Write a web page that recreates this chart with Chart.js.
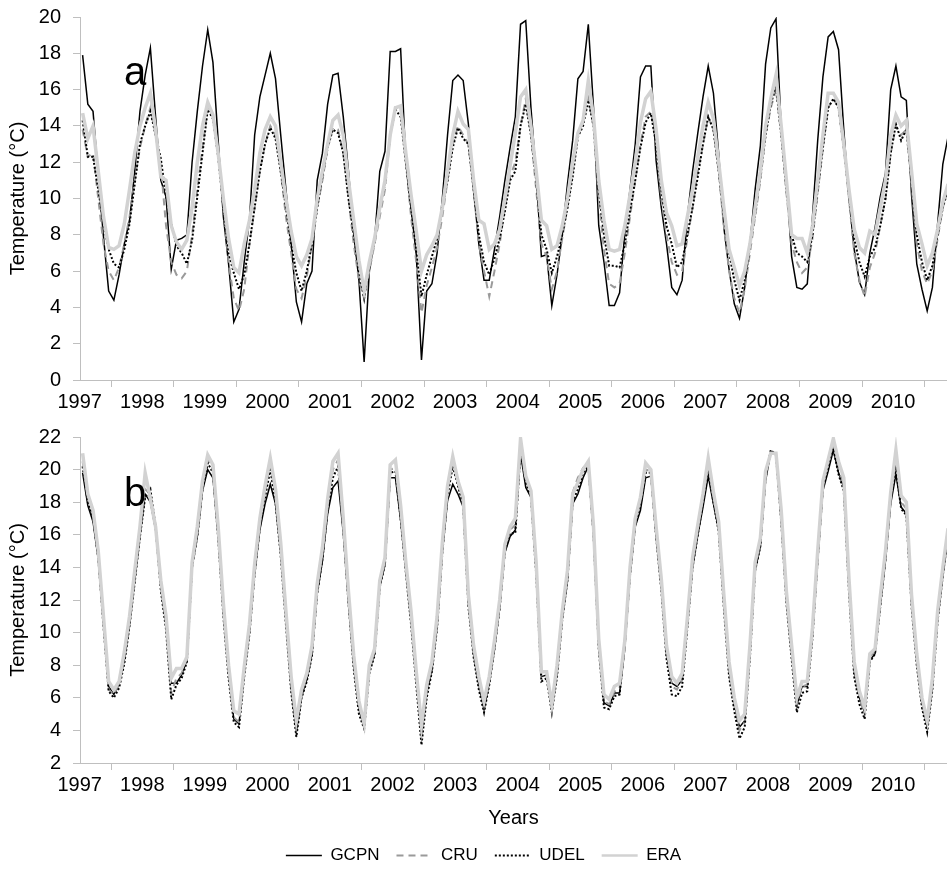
<!DOCTYPE html>
<html>
<head>
<meta charset="utf-8">
<script src="https://cdn.jsdelivr.net/npm/chart.js@4.4.0/dist/chart.umd.min.js"></script>
<style>
  body { margin: 0; background: #fff; }
  #wrap { position: relative; width: 947px; height: 874px; overflow: hidden; font-family: "Liberation Sans", Arial, sans-serif; }
  .box { position: absolute; left: 0; width: 947px; }
  #boxA { top: 0; height: 420px; }
  #boxB { top: 420px; height: 454px; }
  .tag { position: absolute; font-size: 40px; line-height: 40px; color: #000; }
</style>
</head>
<body>
<div id="wrap">
  <div class="box" id="boxA"><canvas id="chartA" width="947" height="420"></canvas></div>
  <div class="box" id="boxB"><canvas id="chartB" width="947" height="454"></canvas></div>
  <div class="tag" style="left:124px;top:51px">a</div>
  <div class="tag" style="left:124px;top:472px">b</div>
</div>
<script>
// monthly series, Jul 1997 .. May 2011
const yearLabels = ['1997','1998','1999','2000','2001','2002','2003','2004','2005','2006','2007','2008','2009','2010'];

// panel a
const gcpnA = [
  17.9, 15.2, 14.8, 11.3, 7.9, 4.9, 4.4, 5.8, 7.5, 8.8, 11.5, 14.8,
  16.8, 18.3, 14.5, 11.0, 10.1, 6.1, 7.7, 7.8, 8.0, 12.0, 14.8, 17.3,
  19.3, 17.5, 13.2, 9.0, 6.4, 3.2, 3.9, 6.5, 8.8, 13.5, 15.6, 16.8,
  18.0, 16.6, 13.5, 10.5, 7.5, 4.3, 3.2, 5.3, 6.0, 11.0, 12.5, 15.2,
  16.8, 16.9, 14.5, 11.5, 8.1, 5.5, 1.0, 6.0, 7.7, 11.5, 12.6, 18.1,
  18.1, 18.25, 12.0, 9.5, 6.9, 1.1, 4.9, 5.3, 7.0, 10.0, 13.5, 16.5,
  16.8, 16.5, 14.1, 10.5, 7.5, 5.5, 5.5, 7.2, 9.0, 11.0, 12.8, 14.5,
  19.6, 19.8, 15.0, 11.3, 6.8, 6.9, 4.1, 5.8, 8.0, 10.8, 13.2, 16.6,
  17.0, 19.6, 15.0, 8.5, 6.5, 4.1, 4.1, 4.8, 8.1, 10.5, 13.0, 16.7,
  17.3, 17.3, 12.1, 9.5, 7.5, 5.1, 4.7, 5.5, 9.0, 11.5, 13.6, 15.6,
  17.3, 15.8, 12.5, 8.4, 6.1, 4.2, 3.4, 5.1, 7.5, 10.5, 12.9, 17.4,
  19.4, 19.9, 13.9, 11.0, 6.8, 5.1, 5.0, 5.3, 9.0, 13.2, 16.7, 18.9,
  19.2, 18.2, 13.8, 10.0, 7.2, 5.4, 4.7, 7.0, 8.4, 10.1, 11.4, 16.0,
  17.3, 15.6, 15.4, 10.2, 6.4, 5.0, 3.8, 5.1, 8.6, 11.9, 13.4
];
const cruA = [
  13.8, 12.3, 12.5, 10.0, 7.5, 6.0, 5.5, 6.2, 7.5, 9.0, 11.0, 12.8,
  14.0, 15.0, 13.5, 11.8, 8.5, 6.5, 5.8, 5.6, 6.0, 8.0, 10.5, 12.8,
  15.0, 14.5, 12.5, 9.5, 6.5, 4.5, 3.8, 5.0, 7.5, 9.5, 11.5, 13.0,
  14.0, 13.5, 11.5, 9.0, 7.0, 5.0, 4.5, 5.7, 7.5, 9.5, 11.0, 12.8,
  13.9, 13.8, 12.5, 10.0, 7.5, 5.5, 4.5, 6.0, 7.5, 9.0, 10.5, 13.5,
  15.0, 14.8, 12.0, 9.0, 6.5, 3.7, 5.2, 6.2, 7.3, 9.0, 11.0, 13.0,
  14.0, 13.5, 13.0, 10.5, 7.5, 6.0, 4.6, 6.0, 7.5, 9.5, 11.2, 12.0,
  14.0, 15.5, 13.5, 10.5, 7.5, 6.8, 5.0, 6.0, 7.8, 9.5, 11.5, 13.5,
  14.2, 15.5, 14.0, 10.0, 7.2, 5.3, 5.1, 5.3, 7.0, 9.0, 11.0, 13.0,
  14.5, 14.8, 13.0, 10.0, 8.0, 6.5, 5.8, 6.0, 7.8, 9.5, 11.5, 13.0,
  14.5, 13.8, 11.5, 8.5, 6.0, 4.5, 3.7, 5.0, 7.0, 9.0, 11.0, 13.5,
  15.0, 16.0, 13.5, 10.3, 7.5, 6.5, 5.9, 6.2, 7.8, 10.3, 12.8, 15.0,
  15.5, 15.0, 12.8, 10.0, 7.0, 5.5, 4.6, 6.2, 7.0, 8.5, 10.0, 12.5,
  14.0, 13.5, 13.8, 10.8, 7.5, 6.0, 5.3, 6.0, 7.8, 9.5, 10.5
];
const udelA = [
  14.3, 12.3, 12.3, 10.5, 8.6, 7.2, 6.4, 6.2, 7.2, 8.6, 10.8, 13.0,
  14.0, 14.8, 13.5, 12.2, 10.1, 8.6, 7.4, 7.0, 6.4, 7.7, 10.1, 12.5,
  14.9, 14.4, 12.3, 9.5, 7.0, 5.9, 5.0, 5.8, 7.5, 9.5, 11.5, 13.0,
  13.9, 13.3, 11.5, 9.5, 7.5, 5.9, 4.9, 6.0, 7.5, 9.5, 11.2, 12.8,
  13.8, 13.6, 12.5, 10.0, 8.0, 6.0, 4.5, 6.5, 7.6, 9.5, 10.8, 13.5,
  14.9, 14.5, 12.0, 9.5, 7.2, 4.6, 5.8, 6.8, 7.8, 9.5, 11.0, 12.8,
  13.9, 13.3, 13.0, 10.5, 8.0, 6.5, 5.8, 6.7, 7.8, 9.3, 11.0, 11.5,
  14.0, 15.2, 13.5, 11.0, 8.0, 7.2, 5.9, 6.8, 8.0, 9.5, 11.2, 13.4,
  14.0, 15.4, 14.0, 10.5, 8.0, 6.3, 6.3, 6.2, 7.5, 9.3, 11.0, 12.8,
  14.2, 14.7, 13.0, 10.5, 8.5, 7.5, 6.2, 6.5, 8.0, 9.5, 11.2, 13.0,
  14.5, 13.8, 11.5, 9.0, 7.0, 5.5, 4.4, 5.5, 7.3, 9.2, 11.2, 13.5,
  15.2, 16.2, 13.5, 10.5, 8.0, 7.0, 6.8, 6.5, 8.0, 10.5, 12.8, 15.0,
  15.5, 15.0, 12.8, 10.2, 7.8, 6.5, 5.7, 6.8, 7.3, 8.5, 10.0, 12.5,
  14.1, 13.2, 13.8, 11.0, 8.0, 6.5, 5.5, 6.3, 8.0, 9.5, 10.5
];
const eraA = [
  14.7, 13.3, 14.0, 11.5, 9.0, 7.3, 7.2, 7.4, 8.6, 10.5, 12.5, 14.0,
  15.0, 15.8, 13.8, 11.2, 11.0, 8.5, 7.6, 7.2, 7.7, 9.5, 12.0, 14.0,
  15.3, 14.6, 12.5, 10.0, 7.8, 6.2, 5.9, 7.5, 8.8, 10.5, 12.5, 13.8,
  14.5, 14.0, 12.0, 10.0, 8.2, 6.8, 6.3, 6.9, 7.8, 10.0, 11.5, 13.0,
  14.3, 14.6, 13.5, 11.0, 8.8, 6.6, 4.9, 6.5, 7.8, 9.5, 11.0, 13.5,
  15.0, 15.1, 12.5, 10.2, 8.2, 6.0, 6.9, 7.4, 8.0, 9.5, 11.5, 13.5,
  14.8, 14.1, 13.8, 11.0, 8.8, 8.6, 7.2, 7.5, 8.3, 10.0, 11.8, 13.6,
  15.6, 16.0, 14.0, 11.5, 8.8, 8.5, 7.2, 7.4, 8.5, 10.0, 12.0, 13.6,
  14.3, 16.5, 14.5, 11.0, 8.8, 7.2, 7.1, 7.2, 8.5, 10.2, 12.0, 14.2,
  15.5, 15.9, 13.8, 11.0, 9.2, 8.5, 7.4, 7.5, 9.0, 10.5, 12.3, 14.0,
  15.3, 14.4, 12.0, 9.5, 7.2, 6.2, 5.2, 6.0, 7.5, 9.5, 11.5, 14.0,
  15.5, 16.8, 14.0, 11.0, 8.0, 7.8, 7.8, 7.0, 8.5, 11.0, 13.5, 15.8,
  15.8, 15.3, 13.0, 10.5, 8.3, 7.3, 7.0, 8.2, 8.0, 9.5, 11.0, 13.5,
  14.6, 14.0, 14.3, 11.5, 8.6, 7.5, 6.3, 7.0, 8.3, 9.8, 10.8
];

// panel b
const gcpnB = [
  19.8, 17.8, 16.8, 14.5, 10.5, 6.7, 6.2, 6.9, 8.3, 10.5, 13.2, 15.9,
  18.5, 18.0, 16.3, 12.8, 10.5, 6.9, 6.9, 7.4, 8.3, 14.0, 15.9, 18.7,
  20.0, 19.5, 15.9, 11.2, 7.5, 4.7, 4.4, 7.5, 10.0, 13.6, 16.3, 17.9,
  19.1, 17.9, 14.9, 10.8, 6.7, 3.9, 6.1, 7.1, 8.7, 12.4, 14.4, 17.3,
  18.9, 19.3, 16.1, 11.8, 8.0, 5.3, 4.2, 7.7, 8.7, 12.8, 14.2, 19.5,
  19.5, 16.9, 13.8, 10.8, 7.1, 3.8, 6.3, 7.7, 10.4, 14.9, 18.1, 19.1,
  18.5, 17.7, 11.8, 8.7, 6.8, 5.3, 6.9, 9.0, 11.5, 14.9, 15.9, 16.3,
  21.0, 18.9, 18.3, 13.8, 7.3, 7.4, 5.3, 7.5, 10.8, 13.2, 17.9, 18.5,
  19.5, 20.2, 15.9, 9.1, 5.7, 5.5, 6.3, 6.3, 9.0, 13.5, 16.5, 17.5,
  19.5, 19.6, 15.9, 12.8, 8.7, 6.9, 6.7, 7.1, 10.4, 14.0, 16.0, 17.7,
  19.6, 17.9, 16.3, 11.8, 7.7, 5.7, 4.2, 4.6, 8.7, 13.8, 15.3, 19.3,
  21.1, 21.0, 16.9, 12.0, 8.7, 5.5, 6.7, 6.7, 9.8, 14.4, 18.7, 19.9,
  21.2, 19.8, 18.9, 12.8, 7.7, 6.0, 5.1, 8.3, 8.7, 11.6, 14.4, 17.9,
  19.7, 17.7, 17.3, 11.8, 8.3, 5.7, 4.2, 6.7, 10.8, 13.5, 15.9
];
const cruB = [
  20.5, 18.2, 17.2, 14.8, 10.7, 6.5, 6.2, 6.8, 8.5, 10.7, 13.5, 16.2,
  18.8, 18.5, 16.6, 13.0, 10.6, 6.3, 7.2, 7.5, 8.4, 14.2, 16.2, 19.0,
  20.6, 20.0, 16.2, 11.4, 7.6, 4.8, 4.5, 7.6, 10.2, 13.9, 16.8, 18.6,
  20.3, 18.4, 15.1, 10.9, 6.8, 4.0, 6.2, 7.2, 8.9, 12.7, 14.8, 17.8,
  20.0, 20.6, 16.6, 12.1, 8.2, 5.4, 4.2, 7.7, 8.8, 13.0, 14.4, 20.0,
  20.1, 17.3, 14.0, 10.9, 7.2, 3.7, 6.3, 7.9, 10.6, 15.2, 18.7, 20.5,
  19.2, 18.0, 11.9, 8.9, 6.8, 5.4, 7.0, 9.2, 11.7, 15.2, 16.3, 16.6,
  21.5, 19.4, 18.5, 14.0, 7.3, 7.4, 5.3, 7.6, 11.0, 13.5, 18.6, 19.5,
  20.1, 20.4, 16.2, 9.3, 5.8, 5.6, 6.4, 6.6, 9.6, 13.8, 16.8, 18.0,
  20.0, 19.9, 16.2, 12.9, 8.8, 6.7, 6.5, 7.1, 10.6, 14.3, 16.3, 18.2,
  20.2, 18.2, 16.5, 11.9, 7.7, 5.5, 4.0, 4.5, 8.8, 14.0, 15.5, 19.7,
  21.1, 21.0, 17.1, 12.2, 8.8, 5.6, 6.7, 6.8, 10.0, 14.7, 19.0, 20.3,
  21.5, 20.0, 19.0, 12.9, 7.8, 6.0, 5.0, 8.5, 8.9, 11.9, 14.8, 18.4,
  20.5, 18.0, 17.6, 12.0, 8.4, 5.8, 4.3, 6.9, 11.0, 13.8, 16.2
];
const udelB = [
  20.2, 18.0, 17.0, 14.6, 10.4, 6.4, 6.0, 6.6, 8.1, 10.4, 13.1, 15.9,
  18.3, 18.8, 16.5, 12.6, 10.2, 5.9, 6.8, 7.2, 8.2, 14.0, 15.9, 18.8,
  20.4, 19.8, 15.8, 11.0, 7.2, 4.5, 4.2, 7.3, 9.9, 13.6, 16.5, 18.3,
  20.0, 18.0, 14.7, 10.5, 6.4, 3.6, 6.0, 7.0, 8.6, 12.4, 14.5, 17.5,
  19.5, 20.2, 16.3, 11.8, 7.8, 5.0, 4.1, 7.5, 8.6, 12.8, 14.2, 19.8,
  19.9, 17.0, 13.7, 10.5, 6.8, 3.1, 6.0, 7.6, 10.3, 14.9, 18.4, 20.2,
  19.0, 17.8, 11.6, 8.5, 6.5, 5.1, 6.8, 9.0, 11.5, 15.0, 16.1, 16.1,
  21.2, 19.2, 18.3, 13.6, 7.0, 7.2, 5.1, 7.3, 10.8, 13.2, 18.0, 18.8,
  19.8, 20.3, 16.0, 9.0, 5.4, 5.3, 6.1, 6.2, 9.3, 13.5, 16.6, 17.8,
  19.8, 19.8, 15.9, 12.6, 8.4, 6.2, 6.1, 6.7, 10.3, 14.0, 16.0, 18.0,
  20.0, 18.0, 16.2, 11.5, 7.3, 5.2, 3.5, 4.2, 8.5, 13.8, 15.3, 19.5,
  21.2, 20.9, 16.8, 11.8, 8.4, 5.1, 6.3, 6.4, 9.7, 14.5, 18.9, 20.1,
  21.3, 19.7, 18.7, 12.5, 7.3, 5.6, 4.7, 8.2, 8.7, 11.6, 14.5, 18.2,
  20.1, 17.6, 17.2, 11.6, 8.0, 5.4, 3.9, 6.5, 10.7, 13.5, 15.9
];
const eraB = [
  21.0, 18.5, 17.5, 15.0, 11.0, 7.0, 6.5, 7.0, 8.8, 11.0, 13.8, 16.5,
  19.8, 18.2, 16.5, 13.2, 11.0, 7.2, 7.8, 7.8, 8.5, 14.3, 16.5, 19.3,
  20.9, 20.3, 16.5, 11.8, 8.0, 5.2, 5.0, 7.9, 10.5, 14.2, 17.0, 19.0,
  20.7, 18.8, 15.5, 11.3, 7.3, 4.6, 6.5, 7.5, 9.2, 13.0, 15.2, 18.2,
  20.5, 21.0, 17.0, 12.5, 8.6, 5.8, 4.4, 8.0, 9.0, 13.2, 14.6, 20.3,
  20.6, 17.8, 14.3, 11.3, 7.6, 4.3, 6.8, 8.2, 11.0, 15.5, 19.0, 20.8,
  19.3, 18.3, 12.3, 9.2, 7.3, 5.8, 7.3, 9.5, 12.0, 15.4, 16.5, 17.0,
  21.9, 19.6, 18.7, 14.3, 7.6, 7.6, 5.6, 8.0, 11.3, 13.8, 18.5, 19.2,
  20.0, 20.5, 16.5, 9.6, 6.2, 5.9, 6.7, 6.9, 9.5, 14.0, 17.0, 18.3,
  20.4, 20.0, 16.5, 13.3, 9.2, 7.3, 6.9, 7.5, 10.9, 14.6, 16.6, 18.5,
  20.7, 18.6, 16.8, 12.3, 8.2, 6.0, 4.6, 5.0, 9.2, 14.3, 15.8, 19.9,
  21.0, 21.0, 17.5, 12.5, 9.2, 6.0, 7.0, 7.0, 10.3, 15.0, 19.3, 20.6,
  21.9, 20.5, 19.5, 13.3, 8.2, 6.4, 5.4, 8.7, 9.0, 12.2, 15.0, 18.6,
  21.2, 18.4, 18.0, 12.3, 8.7, 6.0, 4.6, 7.2, 11.3, 14.0, 16.4
];

const months = gcpnA.map((v, i) => i);
const firstTick = -6.5;   // january 1997, in month units

Chart.defaults.font.family = "'Liberation Sans', Arial, sans-serif";
Chart.defaults.color = '#000';

function makeSets(g, c, u, e) {
  return [
    { label: 'GCPN', data: g, borderColor: '#000', borderWidth: 1.5, keyWidth: 1.5, order: 4 },
    { label: 'CRU', data: c, borderColor: '#9a9a9a', borderWidth: 2, keyWidth: 2, borderDash: [7, 5], order: 3 },
    { label: 'UDEL', data: u, borderColor: '#000', borderWidth: 2, keyWidth: 2, borderDash: [2, 2], order: 2 },
    { label: 'ERA', data: e, borderColor: '#d2d2d2', borderWidth: 3.5, keyWidth: 2.5, order: 1 }
  ];
}

function xAxis(title) {
  return {
    type: 'linear', min: -0.5, max: 165.8,
    afterBuildTicks: scale => {
      const t = [];
      for (let k = 0; k <= yearLabels.length; k++) t.push({ value: firstTick + 12 * k });
      scale.ticks = t;
    },
    afterFit: scale => { scale.height = title ? 67 : 40; scale.paddingLeft = 0; scale.paddingRight = 0; },
    ticks: { autoSkip: false, maxRotation: 0, minRotation: 0, labelOffset: 31, padding: 3,
             font: { size: 20 }, callback: (v, i) => yearLabels[i] || '' },
    grid: { drawOnChartArea: false, tickLength: 7, color: c => c.index === 0 ? 'rgba(0,0,0,0)' : '#bfbfbf' },
    border: { color: '#bfbfbf' },
    title: { display: !!title, text: title, font: { size: 20 }, padding: { top: 0, bottom: 0 } }
  };
}

// shift = extra left padding of the chart, taken back from the y axis width
function yAxis(min, max, shift) {
  return {
    min: min, max: max,
    afterFit: scale => { scale.width = 80 - shift; scale.paddingTop = 0; scale.paddingBottom = 0; },
    ticks: { stepSize: 2, padding: 12, font: { size: 20 } },
    grid: { drawOnChartArea: false, tickLength: 7, color: '#bfbfbf' },
    border: { color: '#bfbfbf' },
    title: { display: true, text: 'Temperature (°C)', font: { size: 20 }, padding: { top: 6 - shift, bottom: 0 } }
  };
}

const base = {
  responsive: false, animation: false, events: [],
  elements: { point: { radius: 0 }, line: { tension: 0 } }
};

new Chart(document.getElementById('chartA'), {
  type: 'line',
  data: { labels: months, datasets: makeSets(gcpnA, cruA, udelA, eraA) },
  options: Object.assign({}, base, {
    layout: { padding: { top: 17, right: 0, left: 0, bottom: 0 } },
    scales: { x: xAxis(''), y: yAxis(0, 20, 0) },
    plugins: { legend: { display: false }, tooltip: { enabled: false } }
  })
});

new Chart(document.getElementById('chartB'), {
  type: 'line',
  data: { labels: months, datasets: makeSets(gcpnB, cruB, udelB, eraB) },
  options: Object.assign({}, base, {
    layout: { padding: { top: 17, right: 0, left: 20, bottom: 0 } },
    scales: { x: xAxis('Years'), y: yAxis(2, 22, 20) },
    plugins: {
      tooltip: { enabled: false },
      legend: {
        position: 'bottom',
        labels: {
          usePointStyle: true, pointStyle: 'line', pointStyleWidth: 36, boxHeight: 2,
          font: { size: 17 }, padding: 17,
          sort: (a, b) => a.datasetIndex - b.datasetIndex,
          generateLabels: chart => Chart.defaults.plugins.legend.labels.generateLabels(chart).map(it => {
            const ds = chart.data.datasets[it.datasetIndex];
            it.strokeStyle = ds.borderColor;
            it.lineWidth = ds.keyWidth;
            it.lineDash = ds.borderDash || [];
            return it;
          })
        }
      }
    }
  })
});
</script>
</body>
</html>
